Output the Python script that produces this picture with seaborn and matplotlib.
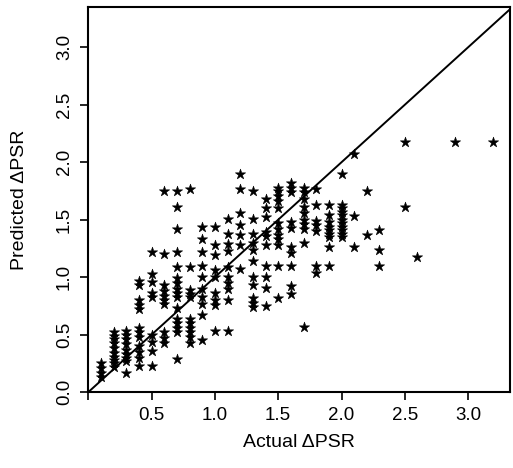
import matplotlib.pyplot as plt
import pandas as pd
import seaborn as sns

# Actual vs predicted change in PSR
actual = (
    [0.1] * 4 + [0.2] * 10 + [0.3] * 9 + [0.4] * 12 + [0.5] * 9 + [0.6] * 10
    + [0.7] * 16 + [0.8] * 11 + [0.9] * 10 + [1.0] * 9 + [1.1] * 10 + [1.2] * 7
    + [1.3] * 11 + [1.4] * 10 + [1.5] * 12 + [1.6] * 10 + [1.7] * 10 + [1.8] * 7
    + [1.9] * 9 + [2.0] * 11 + [2.1] * 3 + [2.2] * 2 + [2.3] * 3 + [2.5] * 2
    + [2.6] + [2.9] + [3.2]
)
predicted = [
    0.25, 0.21, 0.17, 0.13,
    0.52, 0.49, 0.46, 0.43, 0.38, 0.34, 0.31, 0.28, 0.25, 0.22,
    0.53, 0.50, 0.46, 0.42, 0.37, 0.33, 0.30, 0.27, 0.17,
    0.97, 0.93, 0.80, 0.76, 0.72, 0.56, 0.52, 0.48, 0.40, 0.35, 0.30, 0.23,
    1.22, 1.03, 0.96, 0.86, 0.83, 0.50, 0.44, 0.36, 0.23,
    1.75, 1.20, 0.93, 0.88, 0.84, 0.80, 0.77, 0.52, 0.47, 0.43,
    1.75, 1.61, 1.42, 1.22, 1.09, 0.99, 0.95, 0.90, 0.86, 0.83, 0.73, 0.64, 0.60, 0.56, 0.52, 0.29,
    1.77, 1.09, 0.89, 0.85, 0.83, 0.64, 0.60, 0.56, 0.52, 0.48, 0.43,
    1.44, 1.33, 1.22, 1.10, 1.00, 0.90, 0.83, 0.77, 0.67, 0.45,
    1.44, 1.28, 1.19, 1.06, 1.00, 0.86, 0.80, 0.76, 0.53,
    1.51, 1.38, 1.29, 1.23, 1.09, 1.00, 0.95, 0.90, 0.80, 0.53,
    1.90, 1.77, 1.56, 1.45, 1.37, 1.28, 1.07,
    1.75, 1.51, 1.38, 1.30, 1.24, 1.14, 1.00, 0.93, 0.82, 0.78, 0.74,
    1.68, 1.60, 1.52, 1.39, 1.36, 1.28, 1.10, 1.00, 0.91, 0.75,
    1.78, 1.75, 1.71, 1.66, 1.60, 1.47, 1.42, 1.37, 1.33, 1.28, 1.10, 0.82,
    1.82, 1.78, 1.74, 1.48, 1.43, 1.26, 1.21, 1.10, 0.92, 0.85,
    1.78, 1.74, 1.68, 1.61, 1.56, 1.50, 1.46, 1.42, 1.30, 0.57,
    1.77, 1.63, 1.49, 1.45, 1.40, 1.10, 1.04,
    1.63, 1.54, 1.48, 1.44, 1.41, 1.38, 1.35, 1.26, 1.10,
    1.90, 1.63, 1.60, 1.57, 1.54, 1.50, 1.47, 1.44, 1.41, 1.38, 1.35,
    2.07, 1.53, 1.26,
    1.75, 1.37,
    1.41, 1.24, 1.10,
    2.18, 1.61,
    1.18,
    2.18,
    2.18,
]
x_ticks = [0.0, 0.5, 1.0, 1.5, 2.0, 2.5, 3.0]
x_tick_labels = ['', '0.5', '1.0', '1.5', '2.0', '2.5', '3.0']
y_ticks = [0.0, 0.5, 1.0, 1.5, 2.0, 2.5, 3.0]
y_tick_labels = ['0.0', '0.5', '1.0', '1.5', '2.0', '2.5', '3.0']

df = pd.DataFrame({'actual': actual, 'predicted': predicted})

sns.set_style('ticks')
plt.rcParams['font.family'] = ['Liberation Sans', 'DejaVu Sans']

fig = plt.figure(figsize=(5.13, 4.68), dpi=100)
ax = fig.add_axes([0.172, 0.162, 0.822, 0.823])
sns.scatterplot(data=df, x='actual', y='predicted', marker='*', s=60,
                color='black', edgecolor='black', linewidth=0.4, ax=ax)
ax.axline((0, 0), slope=1, color='black', linewidth=1.4)

ax.set_xlim(0, 3.33)
ax.set_ylim(0, 3.35)
ax.set_xticks(x_ticks)
ax.set_xticklabels(x_tick_labels)
ax.set_yticks(y_ticks)
ax.set_yticklabels(y_tick_labels, rotation=90, va='center')
ax.tick_params(direction='out', length=6, width=1.2, labelsize=13.5,
               color='black', labelcolor='black', pad=5)
for s in ax.spines.values():
    s.set_linewidth(1.5)
    s.set_color('black')
ax.set_xlabel('Actual \u0394PSR', fontsize=14, color='black', labelpad=7)
ax.set_ylabel('Predicted \u0394PSR', fontsize=14, color='black', labelpad=20)

fig.savefig('out.png', dpi=100)
